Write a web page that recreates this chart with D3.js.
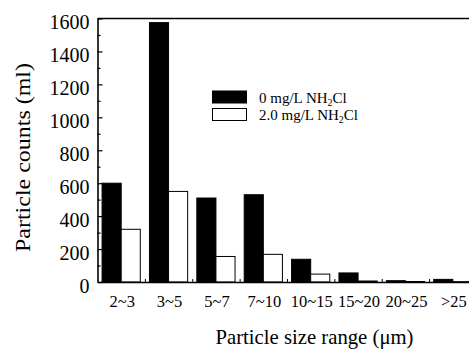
<!DOCTYPE html>
<html>
<head>
<meta charset="utf-8">
<script src="https://cdn.jsdelivr.net/npm/d3@7"></script>
<style>
  html, body { margin: 0; padding: 0; background: #fff; }
  svg { display: block; }
  text { font-family: "Liberation Serif", "Times New Roman", "DejaVu Serif", serif; fill: #000; }
</style>
</head>
<body>
<svg id="chart" width="469" height="349"></svg>
<script>
// Particle size classes (µm)
const categories = ["2~3", "3~5", "5~7", "7~10", "10~15", "15~20", "20~25", ">25"];
// Series: monochloramine dose
const seriesNames = ["0 mg/L NH₂Cl", "2.0 mg/L NH₂Cl"];
const seriesKeys = ["s0", "s2"];
// Particle counts per ml
const counts0 = [600, 1575, 510, 530, 138, 55, 8, 16];
const counts2 = [320, 550, 155, 168, 48, 6, 3, 2];
// Axis ticks
const yMajorTicks = [0, 200, 400, 600, 800, 1000, 1200, 1400, 1600];
const yMinorTicks = [100, 300, 500, 700, 900, 1100, 1300, 1500];

const data = categories.map((c, i) => ({ cat: c, s0: counts0[i], s2: counts2[i] }));
const fills = { s0: "#000", s2: "#fff" };

const svg = d3.select("#chart");
const plotLeft = 97.5, plotRight = 476.5, plotTop = 18.5, plotBottom = 282;

const x0 = d3.scaleBand().domain(categories).range([plotLeft, plotRight]).paddingInner(0).paddingOuter(0);
const x1 = d3.scaleBand().domain(seriesKeys).range([0, x0.bandwidth()])
  .paddingInner(0).paddingOuter(0.24).align(0.5);
const y = d3.scaleLinear().domain([0, 1600]).range([plotBottom, plotTop]);
// boundaries between size classes
const xb = d3.scaleLinear().domain([0, categories.length]).range([plotLeft, plotRight]);

// bars
const groups = svg.append("g").selectAll("g").data(data).join("g")
  .attr("transform", d => `translate(${x0(d.cat)},0)`);
groups.selectAll("rect").data(d => seriesKeys.map(k => ({ key: k, value: d[k] }))).join("rect")
  .attr("x", d => x1(d.key))
  .attr("y", d => y(d.value))
  .attr("width", x1.bandwidth())
  .attr("height", d => plotBottom - y(d.value))
  .attr("fill", d => fills[d.key])
  .attr("stroke", "#000")
  .attr("stroke-width", 1);

// top frame line
svg.append("line")
  .attr("x1", plotLeft).attr("x2", plotRight).attr("y1", plotTop).attr("y2", plotTop)
  .attr("stroke", "#000").attr("stroke-width", 1.6);

// left axis, ticks pointing inward
const yAxis = svg.append("g").attr("transform", `translate(${plotLeft},0)`)
  .call(d3.axisLeft(y).tickValues(yMajorTicks).tickSizeInner(-5).tickSizeOuter(0).tickPadding(8).tickFormat(d3.format("d")));
yAxis.select(".domain").attr("stroke-width", 1.6);
yAxis.selectAll(".tick line").attr("stroke-width", 1.2);
yAxis.selectAll(".tick text").attr("font-size", 20).attr("dy", "0.5em")
  .style("font-family", "'Liberation Serif', 'Times New Roman', serif");

svg.append("g").attr("transform", `translate(${plotLeft},0)`)
  .call(d3.axisLeft(y).tickValues(yMinorTicks).tickSizeInner(-3).tickSizeOuter(0).tickFormat(""))
  .call(g => g.select(".domain").remove())
  .selectAll(".tick line").attr("stroke-width", 1.2);

// bottom axis: baseline and boundary ticks
const xAxis = svg.append("g").attr("transform", `translate(0,${plotBottom})`)
  .call(d3.axisBottom(xb).tickValues(d3.range(1, categories.length)).tickSizeInner(-3).tickSizeOuter(0).tickFormat(""));
xAxis.select(".domain").attr("stroke-width", 1.6);
xAxis.selectAll(".tick line").attr("stroke-width", 1);

// category labels
svg.append("g").attr("transform", `translate(1,${plotBottom})`)
  .call(d3.axisBottom(x0).tickSize(0).tickPadding(13))
  .call(g => g.select(".domain").remove())
  .selectAll(".tick text").attr("font-size", 16.5).attr("dy", "0.71em")
  .style("font-family", "'Liberation Serif', 'Times New Roman', serif");

// axis titles
svg.append("text")
  .attr("x", 314.5).attr("y", 344)
  .attr("text-anchor", "middle").attr("font-size", 21.5)
  .attr("textLength", 198).attr("lengthAdjust", "spacingAndGlyphs")
  .text("Particle size range (μm)");

svg.append("text")
  .attr("transform", "translate(30,157.5) rotate(-90)")
  .attr("text-anchor", "middle").attr("font-size", 21.5)
  .attr("textLength", 189).attr("lengthAdjust", "spacingAndGlyphs")
  .text("Particle counts (ml)");

// legend
const legend = svg.append("g").attr("transform", "translate(212,91)");
const legendItems = legend.selectAll("g").data(seriesKeys).join("g")
  .attr("transform", (d, i) => `translate(0,${i * 17.5})`);
legendItems.append("rect")
  .attr("x", 0.5).attr("y", 0).attr("width", 34).attr("height", 12)
  .attr("fill", d => fills[d]).attr("stroke", "#000").attr("stroke-width", 1);
legendItems.append("text")
  .attr("x", 47).attr("y", 11.5).attr("font-size", 15)
  .each(function(d, i) {
    const name = seriesNames[i];
    const pre = name.split("NH₂Cl")[0];
    const t = d3.select(this);
    t.append("tspan").text(pre + "NH");
    t.append("tspan").attr("font-size", 10).attr("dy", 3).text("2");
    t.append("tspan").attr("dy", -3).text("Cl");
  });
</script>
</body>
</html>
